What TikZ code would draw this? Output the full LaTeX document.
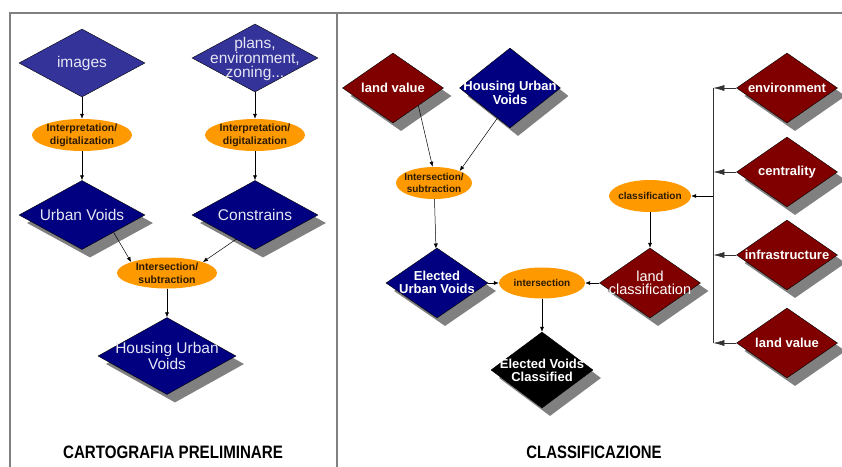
\documentclass[tikz,border=0pt]{standalone}
\usepackage{fontspec}
\setmainfont{Liberation Sans}
\usepackage{graphicx}
\usetikzlibrary{arrows.meta,positioning,shapes.geometric,shadows,calc}
\definecolor{LightBlue}{HTML}{333399}
\definecolor{Navy}{HTML}{000080}
\definecolor{Maroon}{HTML}{800000}
\definecolor{Amber}{HTML}{FF9900}
\definecolor{Shade}{HTML}{808080}
\definecolor{Frame}{HTML}{808080}
\definecolor{PaleText}{HTML}{E6E6F5}
\definecolor{Dark}{HTML}{2B1A00}

\begin{document}
\begin{tikzpicture}[
  x=1pt,y=1pt,on grid,
  dia/.style={diamond,draw=black,line width=0.4pt,inner sep=0pt,minimum width=101pt,minimum height=70pt},
  dropsh/.style={drop shadow={shadow xshift=8pt,shadow yshift=-8pt,fill=Shade,opacity=1}},
  lightd/.style={dia,fill=LightBlue,minimum width=126pt,minimum height=68pt},
  navyl/.style={dia,dropsh,fill=Navy,minimum width=126pt,minimum height=69pt},
  navyr/.style={dia,dropsh,fill=Navy},
  maroond/.style={dia,dropsh,fill=Maroon},
  blackd/.style={dia,dropsh,fill=black,minimum width=102pt,minimum height=76pt},
  oval/.style={ellipse,fill=Amber,inner sep=0pt,minimum width=100pt,minimum height=32pt},
  reg/.style={text=PaleText,align=center,font=\fontsize{15.5}{15.5}\selectfont},
  btxt/.style={text=white,align=center,font=\bfseries\fontsize{13}{13.3}\selectfont},
  otxt/.style={text=Dark,align=center,font=\bfseries\fontsize{10.5}{13}\selectfont},
  otxts/.style={text=Dark,align=center,font=\bfseries\fontsize{10}{11.7}\selectfont},
  arrow/.style={-{Latex[length=5pt,width=4pt]},line width=0.5pt,draw=black},
  busarrow/.style={-{Latex[length=11pt,width=6pt]},line width=0.6pt,draw=black!80},
  frame/.style={draw=Frame,line width=1.6pt},
  title/.style={font=\bfseries\fontsize{18}{18}\selectfont}
]
\useasboundingbox (0,0) rectangle (842,-466);
\draw[frame] (10,-13) rectangle (337,-480);
\draw[frame] (337,-13) rectangle (850,-480);

% cartografia preliminare
\node[lightd,label={[reg]center:images}] (img) at (82,-63) {};
\node[lightd,label={[reg,font=\fontsize{15.5}{14.5}\selectfont,yshift=-1pt]center:{plans,\\environment,\\zoning...}},right=173pt of img,yshift=5pt] (plans) {};
\node[oval,label={[otxt]center:{Interpretation/\\digitalization}},below=72pt of img] (interp1) {};
\node[oval,label={[otxt]center:{Interpretation/\\digitalization}},below=77pt of plans] (interp2) {};
\node[navyl,label={[reg]center:Urban Voids},below=80pt of interp1] (uv) {};
\node[navyl,label={[reg]center:Constrains},below=80pt of interp2] (cons) {};
\node[oval,minimum height=31pt,label={[otxt]center:{Intersection/\\subtraction}},below right=58pt and 85pt of uv] (inter1) {};
\node[navyl,minimum width=138pt,minimum height=77pt,label={[reg,font=\fontsize{15.5}{16.5}\selectfont]center:{Housing Urban\\Voids}},below=83pt of inter1] (huv) {};
\node[title] (t1) at (173,-452) {\scalebox{0.84}[1]{CARTOGRAFIA PRELIMINARE}};

\draw[arrow] (img) -- (interp1);
\draw[arrow] (interp1) -- (uv);
\draw[arrow] (plans) -- (interp2);
\draw[arrow] (interp2) -- (cons);
\draw[arrow] ($(uv.south)!0.5!(uv.east)$) -- (inter1.163);
\draw[arrow] ($(cons.south)!0.3!(cons.west)$) -- (inter1.17);
\draw[arrow] (inter1) -- (huv);

% classificazione
\node[maroond,label={[btxt]center:land value}] (lv) at (393,-88) {};
\node[navyr,minimum height=80pt,label={[btxt,yshift=-5pt]center:{Housing Urban\\Voids}},right=117pt of lv] (huv2) {};
\node[oval,minimum width=76pt,label={[otxts]center:{Intersection/\\subtraction}},below right=95pt and 41pt of lv] (inter2) {};
\node[navyr,minimum width=102pt,label={[btxt,yshift=1pt]center:{Elected\\Urban Voids}},below=100pt of inter2,xshift=3pt] (euv) {};
\node[oval,minimum width=86pt,minimum height=31pt,label={[otxts]center:intersection},right=105pt of euv] (isec) {};
\node[blackd,label={[btxt]center:{Elected Voids\\Classified}},below=87pt of isec] (evc) {};
\node[maroond,label={[reg,text=white,font=\fontsize{14.5}{13.3}\selectfont]center:{land\\classification}},right=108pt of isec] (lcl) {};
\node[oval,minimum width=82pt,label={[otxts]center:classification},above=87pt of lcl] (cls) {};
\node[maroond,label={[btxt]center:environment}] (env) at (787,-88) {};
\node[maroond,label={[btxt]center:centrality},below=84pt of env] (cen) {};
\node[maroond,label={[btxt]center:infrastructure},below=83pt of cen] (inf) {};
\node[maroond,label={[btxt]center:land value},below=88pt of inf] (lv2) {};
\coordinate (bustop) at ($(env.west)+(-23pt,0)$);
\coordinate (busbot) at (bustop |- lv2);
\node[title] (t2) at (594,-452) {\scalebox{0.83}[1]{CLASSIFICAZIONE}};

\draw[arrow] ($(lv.south)!0.5!(lv.east)$) -- (inter2.95);
\draw[arrow] ($(huv2.south)!0.25!(huv2.west)$) -- (inter2.25);
\draw[arrow] (inter2) -- (euv);
\draw[arrow] (euv) -- (isec);
\draw[arrow] (lcl) -- (isec);
\draw[arrow] (isec) -- (evc);
\draw[arrow] (cls) -- (lcl);
\draw[line width=0.6pt,draw=black!80] (bustop) -- (busbot);
\foreach \n in {env,cen,inf,lv2}
  \draw[busarrow] (\n) -- (\n -| bustop);
\draw[arrow] (cls -| bustop) -- (cls);
\end{tikzpicture}
\end{document}
